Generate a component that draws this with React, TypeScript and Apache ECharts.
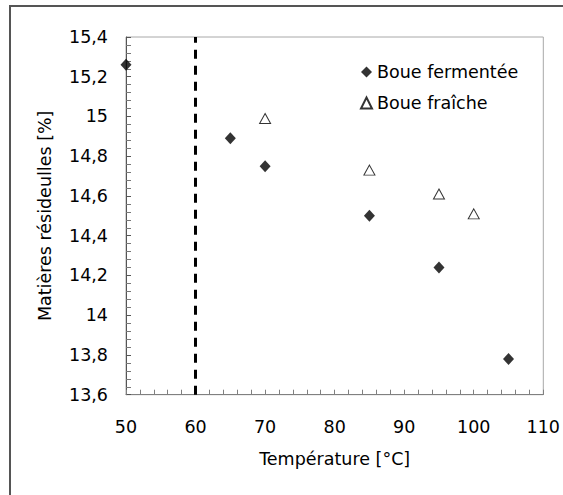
import React, { useEffect, useRef } from 'react';
import * as echarts from 'echarts';

const fermenteeX = [50, 65, 70, 85, 95, 105];
const fermenteeY = [15.26, 14.89, 14.75, 14.5, 14.24, 13.78];
const fraicheX = [70, 85, 95, 100];
const fraicheY = [14.99, 14.73, 14.61, 14.51];
const seriesNames = ['Boue fermentée', 'Boue fraîche'];
const thresholdX = 60;
const xName = 'Température [°C]';
const yName = 'Matières résideulles [%]';

const FONT = 'DejaVu Sans';
const FS = 17.5;

export default function App() {
  const ref = useRef<HTMLDivElement>(null);
  useEffect(() => {
    if (!ref.current) return;
    const chart = echarts.init(ref.current, null, { renderer: 'svg' });
    const axisGray = '#808080';
    chart.setOption({
      animation: false,
      backgroundColor: '#fff',
      textStyle: { fontFamily: FONT },
      graphic: [
        {
          type: 'rect',
          shape: { x: 10, y: 6, width: 700, height: 700 },
          style: { fill: 'none', stroke: '#555', lineWidth: 2 },
          silent: true,
        },
      ],
      grid: {
        left: 126,
        top: 37,
        width: 419,
        height: 357.7,
        show: true,
        borderColor: '#a8a8a8',
        borderWidth: 1,
        backgroundColor: 'transparent',
      },
      legend: {
        orient: 'vertical',
        left: 355,
        top: 58,
        itemWidth: 11,
        itemHeight: 11,
        itemGap: 13,
        textStyle: { fontSize: FS, color: '#000', fontFamily: FONT },
        data: seriesNames,
      },
      xAxis: {
        type: 'value',
        min: 50,
        max: 110,
        interval: 10,
        name: xName,
        nameLocation: 'middle',
        nameGap: 55,
        nameTextStyle: { fontSize: FS, color: '#000', fontFamily: FONT },
        axisLine: { show: true, onZero: false, lineStyle: { color: axisGray, width: 1 } },
        axisTick: { show: true, inside: true, length: 5, lineStyle: { color: axisGray, width: 1 } },
        minorTick: { show: true, splitNumber: 5, length: 5, lineStyle: { color: axisGray, width: 1 } },
        splitLine: { show: false },
        axisLabel: { fontSize: FS, color: '#000', margin: 23, fontFamily: FONT },
      },
      yAxis: {
        type: 'value',
        min: 13.6,
        max: 15.4,
        interval: 0.2,
        name: yName,
        nameLocation: 'middle',
        nameGap: 72,
        nameRotate: 90,
        nameTextStyle: { fontSize: FS, color: '#000', fontFamily: FONT },
        axisLine: { show: true, onZero: false, lineStyle: { color: '#555', width: 1 } },
        axisTick: { show: true, inside: true, length: 5, lineStyle: { color: '#555', width: 1 } },
        minorTick: { show: true, splitNumber: 5, length: 5, lineStyle: { color: '#777', width: 1 } },
        splitLine: { show: false },
        axisLabel: {
          fontSize: FS,
          color: '#000',
          margin: 18,
          fontFamily: FONT,
          formatter: (v: number) => String(Number(v.toFixed(1))).replace('.', ','),
        },
      },
      series: [
        {
          name: seriesNames[0],
          type: 'scatter',
          symbol: 'diamond',
          symbolSize: [11, 12],
          itemStyle: { color: '#000' },
          data: fermenteeX.map((x, i) => [x, fermenteeY[i]]),
          markLine: {
            silent: true,
            symbol: ['none', 'none'],
            label: { show: false },
            lineStyle: { color: '#000', width: 3, type: [9, 7] },
            data: [{ xAxis: thresholdX }],
          },
        },
        {
          name: seriesNames[1],
          type: 'scatter',
          symbol: 'triangle',
          symbolSize: [11, 10],
          itemStyle: { color: '#fff', borderColor: '#000', borderWidth: 1 },
          data: fraicheX.map((x, i) => [x, fraicheY[i]]),
        },
      ],
    });
    return () => chart.dispose();
  }, []);
  return (
    <div
      ref={ref}
      style={{ position: 'absolute', left: 0, top: 0, width: 563, height: 495 }}
    />
  );
}
